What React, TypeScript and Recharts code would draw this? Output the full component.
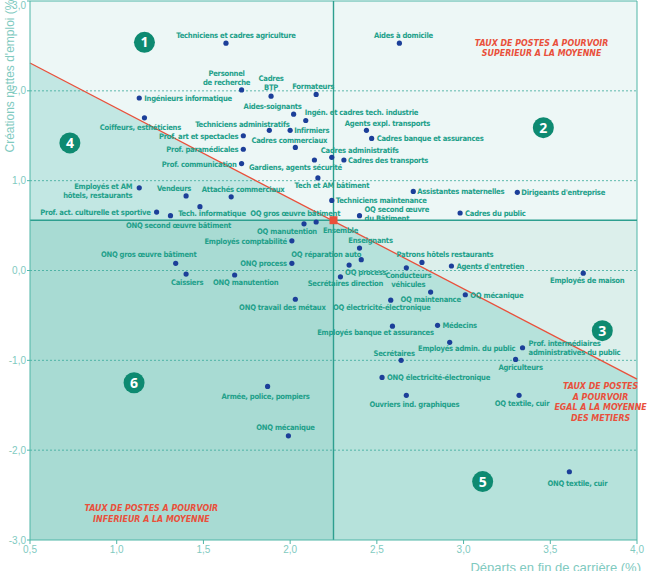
import React from 'react';
import { ComposedChart, Area, Line, Scatter, XAxis, YAxis, ReferenceLine } from 'recharts';

// Métiers : départs en fin de carrière (%) vs créations nettes d'emploi (%)
const jobs = [
  'Techniciens et cadres agriculture',
  'Aides à domicile',
  'Personnel\nde recherche',
  'Cadres\nBTP',
  'Formateurs',
  'Ingénieurs informatique',
  'Coiffeurs, esthéticiens',
  'Aides-soignants',
  'Ingén. et cadres tech. industrie',
  'Agents expl. transports',
  'Cadres banque et assurances',
  'Techniciens administratifs',
  'Infirmiers',
  'Prof. art et spectacles',
  'Prof. paramédicales',
  'Cadres commerciaux',
  'Prof. communication',
  'Gardiens, agents sécurité',
  'Cadres administratifs',
  'Cadres des transports',
  'Tech et AM bâtiment',
  'Techniciens maintenance',
  'OQ second œuvre\ndu Bâtiment',
  'Assistantes maternelles',
  "Dirigeants d'entreprise",
  'Cadres du public',
  'Employés et AM\nhôtels, restaurants',
  'Vendeurs',
  'Attachés commerciaux',
  'Tech. informatique',
  'Prof. act. culturelle et sportive',
  'ONQ second œuvre bâtiment',
  'OQ gros œuvre bâtiment',
  'OQ manutention',
  'Employés comptabilité',
  'Enseignants',
  'OQ réparation auto',
  'ONQ process',
  'OQ process',
  'Secrétaires direction',
  'ONQ manutention',
  'ONQ gros œuvre bâtiment',
  'Caissiers',
  'ONQ travail des métaux',
  'Patrons hôtels restaurants',
  'Conducteurs\nvéhicules',
  "Agents d'entretien",
  'OQ maintenance',
  'OQ mécanique',
  'OQ électricité-électronique',
  'Employés de maison',
  'Médecins',
  'Employés banque et assurances',
  'Employés admin. du public',
  'Prof. intermédiaires\nadministratives du public',
  'Secrétaires',
  'Agriculteurs',
  'ONQ électricité-électronique',
  'Ouvriers ind. graphiques',
  'OQ textile, cuir',
  'Armée, police, pompiers',
  'ONQ mécanique',
  'ONQ textile, cuir',
];

const departs = [
  1.63, 2.63, 1.72, 1.89, 2.15, 1.13, 1.16, 2.02, 2.09, 2.44, 2.47, 1.88, 2.0, 1.73, 1.73, 2.03,
  1.72, 2.14, 2.24, 2.31, 2.16, 2.24, 2.4, 2.71, 3.31, 2.98, 1.13, 1.4, 1.66, 1.48, 1.23, 1.31,
  2.15, 2.08, 2.01, 2.4, 2.41, 2.01, 2.34, 2.29, 1.68, 1.34, 1.4, 2.03, 2.76, 2.67, 2.93, 2.81,
  3.01, 2.58, 3.69, 2.85, 2.59, 2.92, 3.34, 2.64, 3.3, 2.53, 2.67, 3.32, 1.87, 1.99, 3.61,
];

const creations = [
  2.53, 2.53, 2.01, 1.94, 1.96, 1.92, 1.7, 1.74, 1.67, 1.56, 1.47, 1.56, 1.56, 1.5, 1.35, 1.37,
  1.19, 1.23, 1.26, 1.23, 1.03, 0.78, 0.61, 0.88, 0.87, 0.64, 0.92, 0.83, 0.82, 0.71, 0.65, 0.61,
  0.54, 0.52, 0.33, 0.25, 0.12, 0.08, 0.06, -0.07, -0.05, 0.08, -0.04, -0.32, 0.09, 0.03, 0.05,
  -0.24, -0.27, -0.33, -0.03, -0.61, -0.62, -0.8, -0.86, -1.0, -0.99, -1.19, -1.39, -1.39, -1.29,
  -1.84, -2.24,
];

const ensemble = { x: 2.25, y: 0.56, name: 'Ensemble' };

// droite "taux de postes à pourvoir égal à la moyenne"
const equalRateLine = [
  { x: 0.5, y: 2.31 },
  { x: 4.0, y: -1.21 },
];

const zoneNumbers = [1, 2, 3, 4, 5, 6];
const zoneX = [1.16, 3.46, 3.8, 0.73, 3.11, 1.1];
const zoneY = [2.54, 1.59, -0.67, 1.42, -2.35, -1.25];

const notes = [
  { x: 3.45, y: 2.48, lines: ['TAUX DE POSTES A POURVOIR', 'SUPERIEUR A LA MOYENNE'] },
  { x: 3.79, y: -1.46, lines: ['TAUX DE POSTES', 'A POURVOIR', 'EGAL A LA MOYENNE', 'DES METIERS'] },
  { x: 1.2, y: -2.7, lines: ['TAUX DE POSTES A POURVOIR', 'INFERIEUR A LA MOYENNE'] },
];

const xTicks = [0.5, 1, 1.5, 2, 2.5, 3, 3.5, 4];
const yTicks = [-3, -2, -1, 0, 1, 2, 3];
const gridLevels = [-2, -1, 0, 1, 2];

const points = jobs.map((name, i) => ({ name, x: departs[i], y: creations[i] }));
const zones = zoneNumbers.map((n, i) => ({ n, x: zoneX[i], y: zoneY[i] }));

const plotBg = [{ x: 0.5, y: 3 }, { x: 4, y: 3 }];
const lowRight = [{ x: ensemble.x, y: ensemble.y }, { x: 4, y: ensemble.y }];
const lowLeft = [{ x: 0.5, y: ensemble.y }, { x: ensemble.x, y: ensemble.y }];

const AXIS = '#4fb5a6';
const TICK = '#7fcabf';
const LABEL = '#22a08a';
const DOT = '#1c3f99';
const RED = '#e9503b';
const BADGE = '#0e8a71';
const NARROW = "'Liberation Sans Narrow', 'DejaVu Sans Condensed', sans-serif";

type Anchor = 'start' | 'middle' | 'end';

// placement des étiquettes : ancrage, décalage x, décalage y (px)
const labelLayout: Record<string, [Anchor, number, number]> = {
  'Techniciens et cadres agriculture': ['middle', 10, -5],
  'Aides à domicile': ['middle', 4, -5],
  'Personnel\nde recherche': ['middle', -15, -14],
  'Cadres\nBTP': ['middle', 0, -15],
  Formateurs: ['middle', -3, -5],
  'Ingénieurs informatique': ['start', 5, 3],
  'Coiffeurs, esthéticiens': ['middle', -4, 12],
  'Aides-soignants': ['middle', -21, -5],
  'Ingén. et cadres tech. industrie': ['start', -1, -5],
  'Agents expl. transports': ['middle', 21, -4],
  'Cadres banque et assurances': ['start', 5, 3],
  'Techniciens administratifs': ['middle', -27, -3],
  Infirmiers: ['start', 4, 3],
  'Prof. art et spectacles': ['end', -5, 3],
  'Prof. paramédicales': ['end', -5, 3],
  'Cadres commerciaux': ['middle', -6, -4],
  'Prof. communication': ['end', -5, 3],
  'Gardiens, agents sécurité': ['middle', -19, 10],
  'Cadres administratifs': ['middle', 28, -4],
  'Cadres des transports': ['start', 4, 3],
  'Tech et AM bâtiment': ['middle', 14, 10],
  'Techniciens maintenance': ['start', 4, 3],
  'OQ second œuvre\ndu Bâtiment': ['start', 5, -4],
  'Assistantes maternelles': ['start', 4, 3],
  "Dirigeants d'entreprise": ['start', 4, 3],
  'Cadres du public': ['start', 5, 3],
  'Employés et AM\nhôtels, restaurants': ['end', -7, 1],
  Vendeurs: ['middle', -12, -5],
  'Attachés commerciaux': ['middle', 12, -5],
  'Tech. informatique': ['middle', 12, 9],
  'Prof. act. culturelle et sportive': ['end', -6, 3],
  'ONQ second œuvre bâtiment': ['middle', 8, 12],
  'OQ gros œuvre bâtiment': ['middle', -21, -6],
  'OQ manutention': ['middle', -17, 10],
  'Employés comptabilité': ['end', -5, 3],
  Enseignants: ['middle', 11, -5],
  'OQ réparation auto': ['end', 0, -3],
  'ONQ process': ['end', -5, 3],
  'OQ process': ['start', -4, 10],
  'Secrétaires direction': ['middle', 5, 9],
  'ONQ manutention': ['middle', 11, 10],
  'ONQ gros œuvre bâtiment': ['middle', -27, -6],
  Caissiers: ['middle', 1, 11],
  'ONQ travail des métaux': ['middle', -13, 11],
  'Patrons hôtels restaurants': ['middle', 23, -5],
  'Conducteurs\nvéhicules': ['middle', 2, 10],
  "Agents d'entretien": ['start', 5, 3],
  'OQ maintenance': ['middle', 0, 10],
  'OQ mécanique': ['start', 5, 3],
  'OQ électricité-électronique': ['middle', -9, 10],
  'Employés de maison': ['middle', 4, 10],
  Médecins: ['start', 5, 3],
  'Employés banque et assurances': ['middle', -17, 9],
  'Employés admin. du public': ['middle', 17, 9],
  'Prof. intermédiaires\nadministratives du public': ['start', 6, -2],
  Secrétaires: ['middle', -7, -4],
  Agriculteurs: ['middle', 5, 11],
  'ONQ électricité-électronique': ['start', 5, 3],
  'Ouvriers ind. graphiques': ['middle', 8, 12],
  'OQ textile, cuir': ['middle', 3, 11],
  'Armée, police, pompiers': ['middle', -2, 13],
  'ONQ mécanique': ['middle', -3, -6],
  'ONQ textile, cuir': ['middle', 8, 14],
  Ensemble: ['middle', 7, 13],
};

const fmt = (v: number) => v.toFixed(1).replace('.', ',');

function PointLabel({ cx, cy, name }: { cx: number; cy: number; name: string }) {
  const [anchor, dx, dy] = labelLayout[name] ?? ['start', 5, 3];
  const lines = name.split('\n');
  return (
    <text
      x={cx + dx}
      y={cy + dy}
      textAnchor={anchor}
      fontSize={7.6}
      letterSpacing={-0.25}
      fontWeight="bold"
      fontFamily={NARROW}
      fill={LABEL}
    >
      {lines.map((l, i) => (
        <tspan key={i} x={cx + dx} dy={i === 0 ? 0 : 9}>
          {l}
        </tspan>
      ))}
    </text>
  );
}

const JobMarker = (props: any) => {
  const { cx, cy, payload } = props;
  return (
    <g>
      <circle cx={cx} cy={cy} r={2.6} fill={DOT} />
      <PointLabel cx={cx} cy={cy} name={payload.name} />
    </g>
  );
};

const EnsembleMarker = (props: any) => {
  const { cx, cy, payload } = props;
  return (
    <g>
      <rect x={cx - 4} y={cy - 4} width={8} height={8} fill={RED} />
      <PointLabel cx={cx} cy={cy} name={payload.name} />
    </g>
  );
};

const ZoneBadge = (props: any) => {
  const { cx, cy, payload } = props;
  return (
    <g>
      <circle cx={cx} cy={cy} r={10.5} fill={BADGE} />
      <text
        x={cx}
        y={cy + 5}
        textAnchor="middle"
        fontSize={14}
        fontWeight="bold"
        fontFamily="'Open Sans', sans-serif"
        fill="#fff"
      >
        {payload.n}
      </text>
    </g>
  );
};

const NoteText = (props: any) => {
  const { cx, cy, payload } = props;
  const lines: string[] = payload.lines;
  const lh = 10.5;
  const top = cy - ((lines.length - 1) * lh) / 2 + 3.5;
  return (
    <text
      textAnchor="middle"
      fontSize={8.8}
      fontWeight="bold"
      fontStyle="italic"
      fontFamily={NARROW}
      fill={RED}
    >
      {lines.map((l, i) => (
        <tspan key={i} x={cx} y={top + i * lh}>
          {l}
        </tspan>
      ))}
    </text>
  );
};

export default function App() {
  return (
    <div style={{ position: 'relative', width: 661, height: 571, overflow: 'hidden', background: '#fff' }}>
      <style>{'body{margin:0}'}</style>
      <ComposedChart width={661} height={571} margin={{ top: 1, right: 24, bottom: 1, left: 0 }}>
        <XAxis
          type="number"
          dataKey="x"
          domain={[0.5, 4]}
          ticks={xTicks}
          tickFormatter={fmt}
          stroke={AXIS}
          tick={{ fill: TICK, fontSize: 10, fontFamily: "'Liberation Sans', sans-serif" }}
          tickSize={4}
          tickMargin={2}
          height={30}
        />
        <YAxis
          type="number"
          dataKey="y"
          domain={[-3, 3]}
          ticks={yTicks}
          tickFormatter={fmt}
          stroke={AXIS}
          tick={{ fill: TICK, fontSize: 10, fontFamily: "'Liberation Sans', sans-serif" }}
          tickSize={3}
          tickMargin={1}
          width={30}
        />
        <Area data={plotBg} dataKey="y" type="linear" baseValue={-3} fill="#edf7f6" fillOpacity={1} stroke="none" isAnimationActive={false} />
        <Area data={lowRight} dataKey="y" type="linear" baseValue={-3} fill="#dcefeb" fillOpacity={1} stroke="none" isAnimationActive={false} />
        <Area data={equalRateLine} dataKey="y" type="linear" baseValue={-3} fill="#5fc4b5" fillOpacity={0.3} stroke="none" isAnimationActive={false} />
        <Area data={lowLeft} dataKey="y" type="linear" baseValue={-3} fill="#a8dbd3" fillOpacity={1} stroke="none" isAnimationActive={false} />
        {gridLevels.map((v) => (
          <ReferenceLine key={v} y={v} stroke="#3aa89a" strokeWidth={0.8} strokeDasharray="2 2" />
        ))}
        <ReferenceLine y={3} stroke={AXIS} strokeWidth={1} />
        <ReferenceLine x={4} stroke={AXIS} strokeWidth={1} />
        <ReferenceLine y={ensemble.y} stroke="#2d9f8f" strokeWidth={1.4} />
        <ReferenceLine x={ensemble.x} stroke="#2d9f8f" strokeWidth={1.4} />
        <Line data={equalRateLine} dataKey="y" type="linear" stroke={RED} strokeWidth={1.3} dot={false} activeDot={false} isAnimationActive={false} />
        <Scatter data={zones} dataKey="y" shape={ZoneBadge} isAnimationActive={false} />
        <Scatter data={notes} dataKey="y" shape={NoteText} isAnimationActive={false} />
        <Scatter data={points} dataKey="y" shape={JobMarker} isAnimationActive={false} />
        <Scatter data={[ensemble]} dataKey="y" shape={EnsembleMarker} isAnimationActive={false} />
      </ComposedChart>
      <div
        style={{
          position: 'absolute',
          left: 10,
          top: 74,
          transform: 'translate(-50%, -50%) rotate(-90deg)',
          whiteSpace: 'nowrap',
          fontSize: 12,
          fontFamily: "'Liberation Sans', sans-serif",
          color: TICK,
        }}
      >
        Créations nettes d'emploi (%)
      </div>
      <div
        style={{
          position: 'absolute',
          right: 20,
          top: 561,
          whiteSpace: 'nowrap',
          fontSize: 13,
          lineHeight: '13px',
          fontFamily: "'Liberation Sans', sans-serif",
          color: TICK,
        }}
      >
        Départs en fin de carrière (%)
      </div>
    </div>
  );
}
